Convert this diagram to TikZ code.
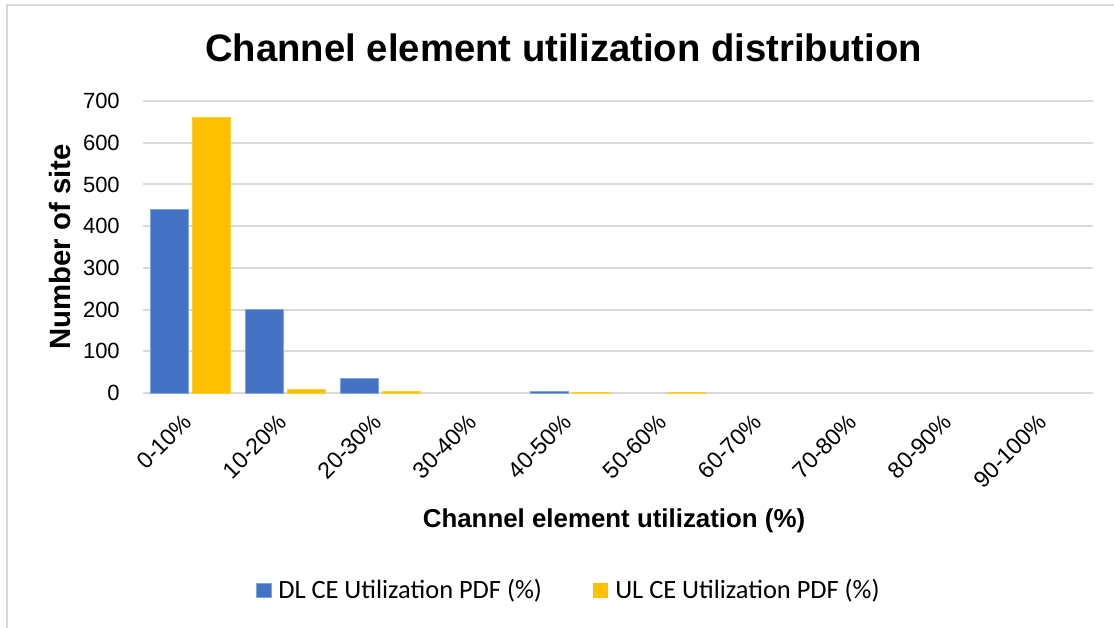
\documentclass[tikz,border=0pt]{standalone}
\usepackage{fontspec}
\setmainfont{Liberation Sans}
\newfontfamily\legendfont{Carlito}
\usetikzlibrary{positioning}
\definecolor{dlblue}{HTML}{4472C4}
\definecolor{dledge}{HTML}{7FA6DD}
\definecolor{ulgold}{HTML}{FFC000}
\definecolor{gridgray}{HTML}{D9D9D9}
\begin{document}
\begin{tikzpicture}[x=0.75pt,y=-0.75pt,
    dlbar/.style={fill=dlblue,draw=dledge,line width=0.75pt},
    ulbar/.style={fill=ulgold,draw=ulgold!80!white,line width=0.5pt},
    gridline/.style={gridgray,line width=1.5pt},
    ticklabel/.style={font=\fontsize{16.5}{18}\selectfont,inner sep=0pt,anchor=east},
    catlabel/.style={font=\fontsize{17.3}{19}\selectfont,inner sep=0pt,anchor=east,rotate=45},
    legendlabel/.style={font=\legendfont\fontsize{19.8}{22}\selectfont,inner sep=0pt,anchor=base west}]
    \useasboundingbox (0,0) rectangle (1114,628);
    \draw[gridgray, line width=1.5pt] (7,628) -- (7,5) -- (1114,5);
    \node[font=\bfseries\fontsize{28.7}{32}\selectfont, inner sep=0pt, anchor=base] (title) at (563.5,61) {Channel element utilization distribution};
    \foreach \k in {0,...,7} {
        \draw[gridline] (143,{393-41.714*\k}) -- (1093,{393-41.714*\k});
        \node[ticklabel] (y\k) at (120,{393-41.714*\k}) {\pgfmathparse{int(100*\k)}\pgfmathresult};
    }
    \foreach \i/\v in {0/440, 1/200, 2/34, 4/4}
        \draw[dlbar] ({143+95*\i+7},393) rectangle ({143+95*\i+45},{393-0.41714*\v});
    \foreach \i/\v in {0/660, 1/9, 2/4, 4/1.5, 5/1.5}
        \draw[ulbar] ({143+95*\i+49},393) rectangle ({143+95*\i+87},{393-0.41714*\v});
    \foreach \i/\t in {0/0-10\%, 1/10-20\%, 2/20-30\%, 3/30-40\%, 4/40-50\%, 5/50-60\%, 6/60-70\%, 7/70-80\%, 8/80-90\%, 9/90-100\%}
        \node[catlabel] (c\i) at ({143+95*\i+45},418) {\t};
    \node[font=\bfseries\fontsize{22}{24}\selectfont, inner sep=0pt, rotate=90] (ytitle) at (60,247) {Number of site};
    \node[font=\bfseries\fontsize{19.4}{22}\selectfont, inner sep=0pt, anchor=base] (xtitle) at (614,527) {Channel element utilization (\%)};
    \node[dlbar, minimum size=11pt, inner sep=0pt] (dlkey) at (264,590.5) {};
    \node[legendlabel] (dltext) at (278,598) {DL CE Utilization PDF (\%)};
    \node[fill=ulgold, minimum size=11pt, inner sep=0pt] (ulkey) at (600.5,590.5) {};
    \node[legendlabel] (ultext) at (615,598) {UL CE Utilization PDF (\%)};
\end{tikzpicture}
\end{document}
